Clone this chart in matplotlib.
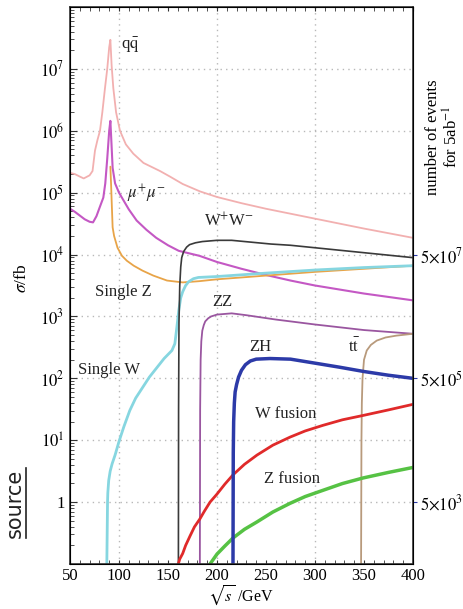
import numpy as np
import matplotlib
matplotlib.use("Agg")
import matplotlib.pyplot as plt
from matplotlib.ticker import FixedLocator, LogLocator, NullFormatter, MultipleLocator
from matplotlib.lines import Line2D

plt.rcParams['font.family'] = ['Liberation Serif', 'DejaVu Serif']
plt.rcParams['mathtext.fontset'] = 'stix'

# ---- data (sqrt(s) in GeV, log10 of sigma in fb) ----
qq_x = [50, 55, 60, 64, 70, 73, 75.5, 78, 80.6, 83, 85.7, 88, 90, 91.2, 92.5, 94.2, 97, 101, 107, 114.6, 125,
        141.8, 152, 165, 182.7, 200, 225, 250, 300, 350, 400]
qq_y = [5.32, 5.30, 5.26, 5.23, 5.28, 5.35, 5.68, 5.85, 6.0, 6.3, 6.69, 7.0, 7.35, 7.47, 7.05, 6.69, 6.3, 6.0,
        5.78, 5.63, 5.48, 5.35, 5.26, 5.14, 5.02, 4.93, 4.83, 4.74, 4.58, 4.42, 4.27]

mm_x = [50, 55, 60, 65, 70, 73.5, 77, 80, 84, 86, 88, 90, 91.2, 92.3, 93.5, 96, 100, 110, 118, 128, 138, 150,
        161, 182, 200, 225, 250, 275, 300, 350, 400]
mm_y = [4.74, 4.69, 4.63, 4.57, 4.53, 4.52, 4.62, 4.75, 4.92, 5.15, 5.55, 6.0, 6.16, 5.8, 5.4, 5.15, 5.0, 4.73,
        4.55, 4.40, 4.27, 4.15, 4.06, 3.98, 3.88, 3.77, 3.67, 3.58, 3.50, 3.37, 3.26]

sz_x = [91.2, 92.0, 92.5, 93.5, 95, 98.5, 103, 108, 115, 124, 135, 149, 165, 182, 200, 250, 300, 350, 400]
sz_y = [5.42, 5.10, 4.87, 4.44, 4.30, 4.11, 3.98, 3.90, 3.82, 3.74, 3.66, 3.58, 3.55, 3.57, 3.60, 3.66, 3.72,
        3.77, 3.82]

sw_x = [87.5, 88.3, 88.6, 89.5, 91, 93, 96, 100, 105, 111, 117, 124, 131, 139, 146, 154, 157, 159, 161, 163,
        165, 168, 171, 176, 181, 200, 250, 300, 350, 400]
sw_y = [-1.1, 0.0, 0.15, 0.35, 0.50, 0.62, 0.76, 0.98, 1.22, 1.48, 1.68, 1.85, 2.02, 2.18, 2.32, 2.45, 2.56,
        2.82, 3.10, 3.30, 3.40, 3.50, 3.56, 3.61, 3.63, 3.645, 3.70, 3.75, 3.79, 3.82]

ww_x = [160.6, 160.8, 161.2, 162, 163, 164, 166, 169, 172, 178, 185, 200, 215, 235, 255, 275, 300, 325, 350,
        375, 400]
ww_y = [-1.1, 1.5, 2.9, 3.5, 3.8, 3.95, 4.05, 4.12, 4.16, 4.19, 4.21, 4.23, 4.23, 4.20, 4.17, 4.15, 4.11, 4.07,
        4.03, 3.99, 3.95]

zz_x = [182.5, 182.8, 183.3, 184, 185, 186.5, 188, 191, 194, 200, 215, 230, 260, 300, 350, 400]
zz_y = [-1.1, 1.5, 2.3, 2.6, 2.77, 2.86, 2.92, 2.97, 3.00, 3.03, 3.05, 3.02, 2.95, 2.87, 2.78, 2.72]

zh_x = [216.3, 216.6, 217, 217.7, 218.5, 220, 222, 225, 229, 234, 240, 254, 275, 302, 325, 350, 375, 400]
zh_y = [-1.1, 0.8, 1.3, 1.6, 1.78, 1.90, 2.02, 2.13, 2.22, 2.28, 2.31, 2.32, 2.31, 2.24, 2.18, 2.11, 2.05, 2.00]

tt_x = [347.0, 347.4, 347.8, 348.5, 350, 352.8, 357, 363, 372, 383, 400]
tt_y = [-1.1, 1.0, 1.6, 2.0, 2.3, 2.45, 2.54, 2.61, 2.66, 2.69, 2.72]

wf_x = [160.5, 162, 165, 168, 172.4, 177, 182.6, 187, 192.9, 200, 208, 216.3, 228, 240.8, 257, 274.5, 290,
        308, 328, 349, 375, 400]
wf_y = [-1.0, -0.92, -0.83, -0.70, -0.55, -0.40, -0.27, -0.15, 0.0, 0.13, 0.29, 0.44, 0.61, 0.76, 0.92, 1.05,
        1.15, 1.24, 1.33, 1.40, 1.49, 1.58]

zf_x = [192.9, 196, 200, 208, 216.3, 228, 240.8, 257, 274.5, 290, 308, 328, 349, 375, 400]
zf_y = [-1.0, -0.93, -0.84, -0.71, -0.58, -0.44, -0.32, -0.16, -0.02, 0.09, 0.19, 0.30, 0.39, 0.48, 0.56]

series = [
    (qq_x, qq_y, '#f2b0b0', 1.3),
    (mm_x, mm_y, '#c458c4', 1.5),
    (sz_x, sz_y, '#e8a448', 1.3),
    (sw_x, sw_y, '#86d6e0', 2.0),
    (ww_x, ww_y, '#3a3a3a', 1.2),
    (zz_x, zz_y, '#9a56a0', 1.3),
    (tt_x, tt_y, '#b89a7c', 1.3),
    (wf_x, wf_y, '#e02a2a', 2.0),
    (zf_x, zf_y, '#56c244', 2.5),
    (zh_x, zh_y, '#2c3aa8', 2.5),
]

labels = [
    (r'q$\bar{\mathrm{q}}$', 102, 2.4e7),
    (r'$\mu^{+}\mu^{-}$', 108, 9.6e4),
    ('Single Z', 76, 2.5e3),
    ('Single W', 58, 1.35e2),
    (r'W$^{+}$W$^{-}$', 187, 3.5e4),
    ('ZZ', 195, 1.7e3),
    ('ZH', 232.5, 3.2e2),
    (r't$\bar{\mathrm{t}}$', 333.5, 3.2e2),
    ('W fusion', 238.5, 27),
    ('Z fusion', 247.5, 2.35),
]

xticks = [50, 100, 150, 200, 250, 300, 350, 400]
yticks = [1, 10, 100, 1e3, 1e4, 1e5, 1e6, 1e7]
ytick_labels = ['1', r'$10^{1}$', r'$10^{2}$', r'$10^{3}$', r'$10^{4}$', r'$10^{5}$', r'$10^{6}$', r'$10^{7}$']
right_ticks = [1, 100, 1e4]
right_labels = [r'$5{\times}10^{3}$', r'$5{\times}10^{5}$', r'$5{\times}10^{7}$']

W, H = 463, 609
fig = plt.figure(figsize=(W / 100, H / 100), dpi=100)
ax = fig.add_axes([70 / W, 1 - 564 / H, (413 - 70) / W, (564 - 7) / H])

for xs, ys, c, lw in series:
    ax.plot(xs, 10 ** np.array(ys), color=c, lw=lw, solid_joinstyle='round', solid_capstyle='round')

ax.set_yscale('log')
ax.set_xlim(50, 400)
ax.set_ylim(0.1, 1e8)

for gx in [100, 200, 300]:
    ax.axvline(gx, color='#b8b8b8', lw=1.0, ls=(0, (1, 3)), zorder=0)
for gy in yticks:
    ax.axhline(gy, color='#b8b8b8', lw=1.0, ls=(0, (1, 3)), zorder=0)

ax.set_xticks(xticks)
ax.set_xticklabels([str(v) for v in xticks])
ax.xaxis.set_minor_locator(MultipleLocator(10))
ax.yaxis.set_major_locator(FixedLocator(yticks))
ax.set_yticklabels(ytick_labels)
ax.yaxis.set_minor_locator(LogLocator(base=10, subs=np.arange(2, 10)))
ax.yaxis.set_minor_formatter(NullFormatter())

ax.tick_params(axis='both', which='both', direction='in', labelsize=12, color='#333333')
ax.tick_params(axis='x', which='both', top=True, bottom=True, length=3)
ax.tick_params(axis='y', which='major', length=5, left=True, right=False)
ax.tick_params(axis='y', which='minor', length=3, left=True, right=False)
ax.tick_params(axis='x', pad=3)
ax.tick_params(axis='y', pad=4)
for s in ax.spines.values():
    s.set_color('#333333')
    s.set_linewidth(1.2)

ax2 = ax.twinx()
ax2.set_yscale('log')
ax2.set_ylim(0.1, 1e8)
ax2.yaxis.set_major_locator(FixedLocator(right_ticks))
ax2.set_yticklabels(right_labels)
ax2.yaxis.set_minor_locator(FixedLocator([]))
ax2.tick_params(axis='y', which='major', direction='out', length=3, color='#2c3aa8', labelsize=12, pad=2)

for txt, x, y in labels:
    ax.text(x, y, txt, fontsize=12, ha='left', va='center', color='#222222')

fig.text(241 / W, 1 - 602 / H, r'$\sqrt{s}$ /GeV', fontsize=11.5, ha='center', va='baseline')
fig.text(22 / W, 1 - 278 / H, r'$\sigma$/fb', fontsize=12.5, ha='center', va='center', rotation=90)
fig.text(443 / W, 1 - 137 / H, 'number of events\n' + r'for 5ab$^{-1}$', fontsize=12,
         ha='center', va='center', rotation=90, linespacing=1.1, multialignment='center')

fig.text(15 / W, 1 - 503 / H, 'source', fontsize=15, family='DejaVu Sans', ha='center', va='center',
         rotation=90, color='#222222')
fig.add_artist(Line2D([26 / W, 26 / W], [1 - 468 / H, 1 - 538 / H], color='#222222', lw=1.2,
                      transform=fig.transFigure))

fig.savefig('out.png', dpi=100)
